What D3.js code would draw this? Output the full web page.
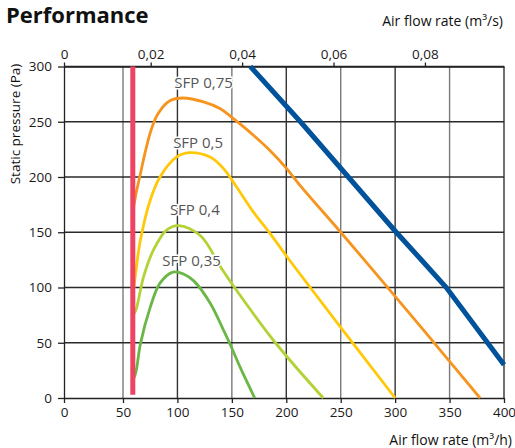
<!DOCTYPE html>
<html>
<head>
<meta charset="utf-8">
<script src="https://cdn.jsdelivr.net/npm/d3@7"></script>
<style>
  body { margin: 0; background: #fff; }
  svg { font-family: "Open Sans", sans-serif; }
</style>
</head>
<body>
<div id="chart"></div>
<script>
// axis ticks
var flowTicks = [0, 50, 100, 150, 200, 250, 300, 350, 400];       // m3/h
var pressureTicks = [0, 50, 100, 150, 200, 250, 300];            // Pa
var flowSecTicks = [0, 0.02, 0.04, 0.06, 0.08];                  // m3/s

// curves: [flow m3/h, pressure Pa]
var sfp075 = [[59,168],[62,185],[66,203],[71,225],[76,243],[82,257],[93,269],[105,271.5],[124,268],[139,262],[150,254],[160,246],[173,235],[185,224],[200,208],[213,192],[250,150],[300,92],[340,45],[378,0]];
var sfp05 = [[60,100],[62,116],[66,143],[75,179],[84,200],[99,218],[111,222],[130,218],[142,208],[153,193],[170,168],[185,149],[202,126],[222,100],[250,64],[300,0]];
var sfp04 = [[60,76],[62,80],[69,110],[78,134],[90,152],[101,156],[121,147],[140,118],[151,102],[190,50],[234,0]];
var sfp035 = [[60,18],[62,24],[66,49],[75,82],[84,104],[96,114],[106,112],[115,106],[130,86],[143,60],[150,45],[158,27],[171,0]];
var maxLine = [[167,300],[213,250],[257,200],[301,150],[325,124],[347,100],[400,30]];
var minFlow = 59;   // red limit line
var minFlowRange = [3, 300];

var labels = ["SFP 0,75", "SFP 0,5", "SFP 0,4", "SFP 0,35"];
var labelAt = [[124, 285], [119, 231.5], [116, 170.5], [113, 124.5]];  // label centre in data units

var W = 515, H = 448;
var svg = d3.select("#chart").append("svg")
    .attr("width", W)
    .attr("height", H);

var x = d3.scaleLinear().domain([0, 50, 400]).range([64, 123, 504]);
var y = d3.scaleLinear().domain([0, 300]).range([398, 66.5]);
var xTop = d3.scaleLinear().domain([0, 0.02, 0.0973]).range([64, 150.7, 504]);

// grid
svg.append("g").selectAll("line")
  .data(flowTicks.slice(1))
  .enter().append("line")
    .attr("x1", function(d) { return x(d); })
    .attr("x2", function(d) { return x(d); })
    .attr("y1", y(300))
    .attr("y2", y(0))
    .attr("stroke", function(d) { return (d % 100 == 0) ? "#333" : "#7a7a7a"; })
    .attr("stroke-width", 1.4);

svg.append("g").selectAll("line")
  .data(pressureTicks.slice(1))
  .enter().append("line")
    .attr("x1", x(0))
    .attr("x2", x(400))
    .attr("y1", function(d) { return y(d); })
    .attr("y2", function(d) { return y(d); })
    .attr("stroke", "#2a2a2a")
    .attr("stroke-width", 1.3);

// axes
var fmt = function(d) { return String(d).replace(".", ","); };

var gx = svg.append("g")
    .attr("transform", "translate(0," + y(0) + ")")
    .call(d3.axisBottom(x).tickValues(flowTicks).tickSize(5).tickSizeOuter(0).tickFormat(fmt));

var gy = svg.append("g")
    .attr("transform", "translate(" + x(0) + ",0)")
    .call(d3.axisLeft(y).tickValues(pressureTicks).tickSize(6).tickSizeOuter(0));

var gt = svg.append("g")
    .attr("transform", "translate(0," + y(300) + ")")
    .call(d3.axisTop(xTop).tickValues(flowSecTicks).tickSize(4).tickSizeOuter(0).tickFormat(fmt));

[gx, gy, gt].forEach(function(g) {
  g.select(".domain").attr("stroke", "#222").attr("stroke-width", 1.3);
  g.selectAll(".tick line").attr("stroke", "#222").attr("stroke-width", 1.3);
  g.selectAll(".tick text")
    .attr("fill", "#1a1a1a")
    .style("font-size", "13.5px")
    .style("font-family", "Open Sans, sans-serif");
});
gx.selectAll(".tick text").attr("dy", "0.95em").attr("y", 6);
gy.selectAll(".tick text").attr("x", -12);
gt.selectAll(".tick text").attr("y", -8);

// curves
var line = d3.line()
    .x(function(d) { return x(d[0]); })
    .y(function(d) { return y(d[1]); })
    .curve(d3.curveCatmullRom.alpha(0.5));

var series = [
  { data: sfp075, color: "#f7941d" },
  { data: sfp05,  color: "#ffc909" },
  { data: sfp04,  color: "#b2d235" },
  { data: sfp035, color: "#6bb745" }
];

svg.append("g").selectAll("path")
  .data(series)
  .enter().append("path")
    .attr("d", function(d) { return line(d.data); })
    .attr("fill", "none")
    .attr("stroke", function(d) { return d.color; })
    .attr("stroke-width", 2.8);

svg.append("path")
    .attr("d", d3.line()
        .x(function(d) { return x(d[0]); })
        .y(function(d) { return y(d[1]); })(maxLine))
    .attr("fill", "none")
    .attr("stroke", "#00529b")
    .attr("stroke-width", 5);

svg.append("line")
    .attr("x1", x(minFlow))
    .attr("x2", x(minFlow))
    .attr("y1", y(minFlowRange[0]))
    .attr("y2", y(minFlowRange[1]))
    .attr("stroke", "#ee4462")
    .attr("stroke-width", 5);

// SFP labels
svg.append("g").selectAll("text")
  .data(labels)
  .enter().append("text")
    .attr("x", function(d, i) { return x(labelAt[i][0]); })
    .attr("y", function(d, i) { return y(labelAt[i][1]); })
    .attr("text-anchor", "middle")
    .attr("dy", "0.36em")
    .attr("fill", "#555")
    .attr("stroke", "#fff")
    .attr("stroke-width", 3)
    .attr("paint-order", "stroke")
    .style("font-size", "15px")
    .text(function(d) { return d; });

// titles
svg.append("text")
    .attr("x", 6)
    .attr("y", 23)
    .attr("fill", "#111")
    .style("font-size", "22px")
    .style("font-weight", "bold")
    .text("Performance");

svg.append("text")
    .attr("x", 503)
    .attr("y", 26)
    .attr("text-anchor", "end")
    .attr("fill", "#111")
    .style("font-size", "14px")
    .text("Air flow rate (m³/s)");

svg.append("text")
    .attr("x", 512)
    .attr("y", 445)
    .attr("text-anchor", "end")
    .attr("fill", "#111")
    .style("font-size", "14px")
    .text("Air flow rate (m³/h)");

svg.append("text")
    .attr("transform", "translate(20,124) rotate(-90)")
    .attr("text-anchor", "middle")
    .attr("fill", "#111")
    .style("font-size", "13.5px")
    .text("Static pressure (Pa)");
</script>
</body>
</html>
